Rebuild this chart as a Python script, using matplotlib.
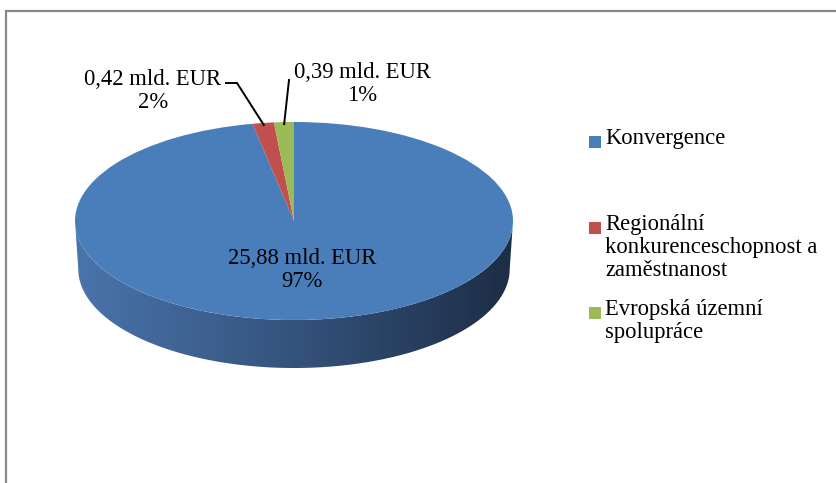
import numpy as np
import matplotlib.pyplot as plt
from matplotlib.colors import LinearSegmentedColormap
from matplotlib.patches import Polygon

plt.rcParams['font.family'] = ['Liberation Serif', 'DejaVu Serif']
fs = 16.3

# data (mld. EUR)
categories = ['Konvergence',
              'Regionální\nkonkurenceschopnost a\nzaměstnanost',
              'Evropská územní\nspolupráce']
values = [25.88, 0.42, 0.39]
colors = ['#4a7ebb', '#c0504d', '#9bbb59']

W, H = 836, 483
fig = plt.figure(figsize=(W / 100, H / 100), dpi=100)

# pie axes, top face is an ellipse
cx, cy, a, b = 294, 221, 219, 99
ylo = -1.5
pax = fig.add_axes([(cx - a) / W, 1 - (cy - ylo * b) / H, 2 * a / W, (1 - ylo) * b / H])

# overlay axes in pixel units for frame, labels, legend
bg = fig.add_axes([0, 0, 1, 1])
bg.set_xlim(0, W)
bg.set_ylim(H, 0)
bg.axis('off')
bg.set_zorder(3)

# chart frame (only top + left visible)
bg.plot([6, 6, W], [H, 11, 11], color='#8a8a8a', lw=1.6, solid_joinstyle='miter')

# side of the 3d pie (extruded downwards)
depth = 0.485
t = np.linspace(np.pi, 2 * np.pi, 300)
side_x = np.r_[np.cos(t), (0.985 * np.cos(t))[::-1]]
side_y = np.r_[np.sin(t), (np.sin(t) - depth)[::-1]]
side = Polygon(np.column_stack([side_x, side_y]), closed=True, facecolor='none', edgecolor='none')
pax.add_patch(side)
side_cmap = LinearSegmentedColormap.from_list('side', ['#4a74ab', '#34537c', '#1d2d45'])
grad = np.linspace(0, 1, 256).reshape(1, -1)
im = pax.imshow(grad, cmap=side_cmap, extent=[-1, 1, -1.5, 0.05], aspect='auto', zorder=0.5)
im.set_clip_path(side)

wedges, _ = pax.pie(values, colors=colors, startangle=90, counterclock=False, radius=1,
                    wedgeprops=dict(linewidth=0))
pax.set_aspect('auto')
pax.set_xlim(-1, 1)
pax.set_ylim(ylo, 1)
pax.axis('off')

# data labels
total = sum(values)
pcts = [v / total * 100 for v in values]
labels = [('%.2f' % v).replace('.', ',') + ' mld. EUR\n%.0f%%' % p for v, p in zip(values, pcts)]
label_pos = [(302, 270), (153, 91), (362, 84)]
for lab, (x, y) in zip(labels, label_pos):
    bg.text(x, y, lab, ha='center', va='center', fontsize=fs, linespacing=1.12)


def edge_point(i, r=0.98):
    # point on top face at the middle angle of wedge i
    frac = (sum(values[:i]) + values[i] / 2) / total
    ang = np.deg2rad(90 - frac * 360)
    disp = pax.transData.transform((r * np.cos(ang), r * np.sin(ang)))
    return bg.transData.inverted().transform(disp)


# leader lines
p1 = edge_point(1)
bg.plot([226, 237, p1[0]], [83, 83, p1[1]], color='black', lw=1.4)
p2 = edge_point(2)
bg.plot([289, p2[0]], [80, p2[1]], color='black', lw=1.4)

# legend
leg_y = [142, 228, 313]
for cat, col, y in zip(categories, colors, leg_y):
    bg.scatter(595, y, marker='s', s=80, color=col, linewidths=0)
    bg.text(605, y - 14, cat, ha='left', va='top', fontsize=fs, linespacing=1.12)

plt.savefig('out.png', dpi=100, facecolor='white')
